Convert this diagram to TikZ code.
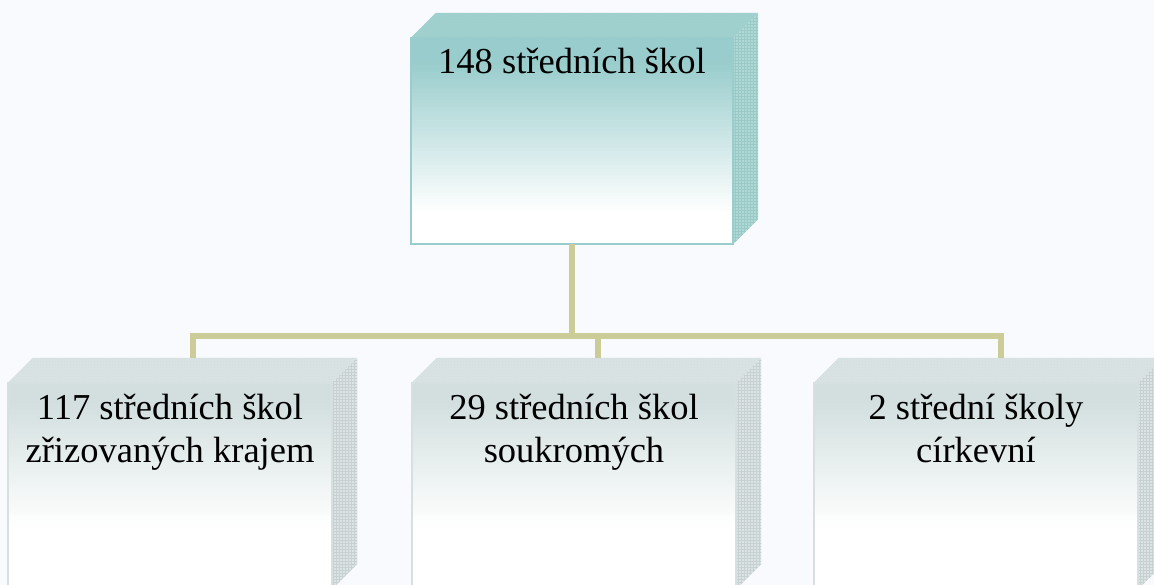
\documentclass[tikz,border=0pt]{standalone}
\usepackage{fontspec}
\setmainfont{Liberation Serif}
\usetikzlibrary{calc,patterns}
\definecolor{bgc}{HTML}{F8FAFD}
\definecolor{tealfront}{HTML}{99CCCC}
\definecolor{tealtop}{HTML}{A0D1CE}
\definecolor{tealside}{HTML}{B0D8D5}
\definecolor{tealgrid}{HTML}{9ACAC7}
\definecolor{tealline}{HTML}{99CCCC}
\definecolor{grayfront}{HTML}{D3DFDF}
\definecolor{graytop}{HTML}{D9E3E3}
\definecolor{grayside}{HTML}{DCE3E3}
\definecolor{graygrid}{HTML}{C8D1D1}
\definecolor{grayline}{HTML}{D6E0E0}
\definecolor{connc}{HTML}{CCCC99}
\tikzset{
  boxbase/.style={rectangle, inner sep=0pt, minimum height=206pt},
  tealbox/.style={boxbase, minimum width=322pt},
  graybox/.style={boxbase, minimum width=324pt},
  lbl/.style={align=center, inner sep=0pt, font=\fontsize{36.5}{43}\selectfont},
  conn/.style={draw=connc, line width=6pt}
}
% gradient front face made of thin strips
% #1 node, #2 colour, #3 solid fraction (0-1), #4 white fraction (0-1)
\newcommand{\gradfront}[4]{%
  \fill[white] (#1.north west) rectangle (#1.south east);
  \foreach \i in {0,...,59}{%
    \pgfmathsetmacro{\ta}{\i/60}%
    \pgfmathsetmacro{\tb}{(\i+1.05)/60}%
    \pgfmathsetmacro{\tm}{(\i+0.5)/60}%
    \pgfmathsetmacro{\pct}{max(0,min(100,100*(#4-\tm)/(#4-#3)))}%
    \fill[#2!\pct!white] ($(#1.north west)!\ta!(#1.south west)$) rectangle ($(#1.north east)!\tb!(#1.south east)$);
  }%
}
\newcommand{\cubefaces}[4]{%
  % #1 node name, #2 top colour, #3 side colour, #4 grid colour
  \fill[#2] (#1.north west) -- ++(25,-25) -- ($(#1.north east)+(25,-25)$) -- (#1.north east) -- cycle;
  \fill[pattern=crosshatch dots, pattern color=#4!40!#2] (#1.north west) -- ++(25,-25) -- ($(#1.north east)+(25,-25)$) -- (#1.north east) -- cycle;
  \fill[#3] (#1.north east) -- ++(25,-25) -- ($(#1.south east)+(25,-25)$) -- (#1.south east) -- cycle;
  \fill[pattern=grid, pattern color=#4] (#1.north east) -- ++(25,-25) -- ($(#1.south east)+(25,-25)$) -- (#1.south east) -- cycle;
}
\begin{document}
\begin{tikzpicture}[x=1pt,y=-1pt]
\useasboundingbox (0,0) rectangle (1154,585);
\clip (0,0) rectangle (1154,585);
\fill[bgc] (0,0) rectangle (1154,585);

\node[tealbox] (top) at (572,141) {};
\node[graybox] (left) at (170,486) {};
\node[graybox] (mid) at (574,486) {};
\node[graybox] (right) at (976,486) {};

\gradfront{top}{tealfront}{0.12}{0.85}
\gradfront{left}{grayfront}{0.1}{0.7}
\gradfront{mid}{grayfront}{0.1}{0.7}
\gradfront{right}{grayfront}{0.1}{0.7}

\cubefaces{top}{tealtop}{tealside}{tealgrid}
\cubefaces{left}{graytop}{grayside}{graygrid}
\cubefaces{mid}{graytop}{grayside}{graygrid}
\cubefaces{right}{graytop}{grayside}{graygrid}

\draw[tealline, line width=1.5pt] (top.north west) rectangle (top.south east);
\draw[grayline, line width=1.5pt] (left.north west) rectangle (left.south east);
\draw[grayline, line width=1.5pt] (mid.north west) rectangle (mid.south east);
\draw[grayline, line width=1.5pt] (right.north west) rectangle (right.south east);

\node[lbl, anchor=base] (ttop) at ($(top.north)+(0,36)$) {148 středních škol};
\node[lbl, anchor=north] (tleft) at ($(left.north)+(0,11)$) {117 středních škol\\zřizovaných krajem};
\node[lbl, anchor=north] (tmid) at ($(mid.north)+(0,11)$) {29 středních škol\\soukromých};
\node[lbl, anchor=north] (tright) at ($(right.north)+(0,11)$) {2 střední školy\\církevní};

\coordinate (cl) at ($(left.north)+(23,-25)$);
\coordinate (cm) at ($(mid.north)+(24,-25)$);
\coordinate (cr) at ($(right.north)+(25,-25)$);
\coordinate (bar) at ($(top.south)+(0,92)$);

\draw[conn] (top.south) -- (bar);
\draw[conn] (cl) -- (cl |- bar) -- (cr |- bar) -- (cr);
\draw[conn] (cm) -- (cm |- bar);
\end{tikzpicture}
\end{document}
